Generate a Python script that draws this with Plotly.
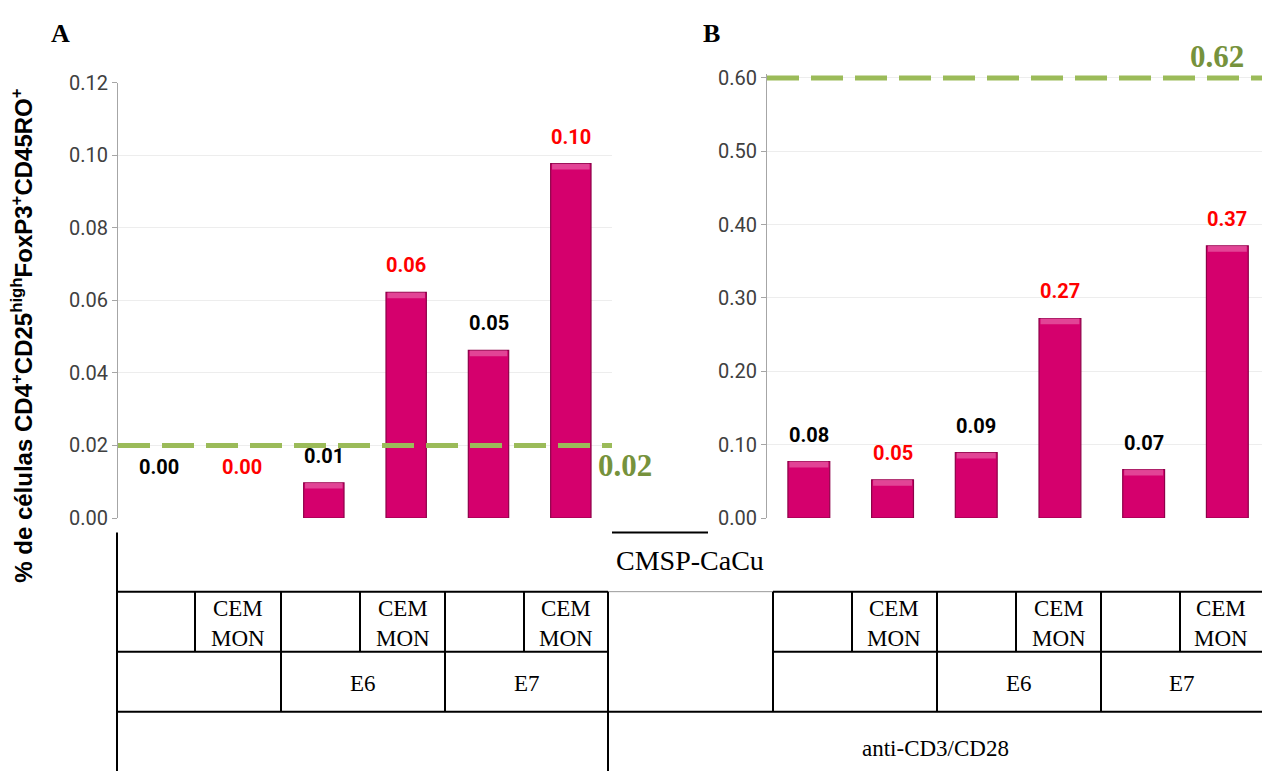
import plotly.graph_objects as go

W, H = 1262, 783

# ---------------- data ----------------
categories = ["Control", "CEMMON", "E6", "E6 CEMMON", "E7", "E7 CEMMON"]
values_a = [0.0, 0.0, 0.0097, 0.0622, 0.0462, 0.0977]
values_b = [0.077, 0.052, 0.089, 0.272, 0.066, 0.371]
label_colors = ["black", "red", "black", "red", "black", "red"]
ref_a = 0.02
ref_b = 0.60
ref_a_label = "0.02"
ref_b_label = "0.62"
yticks_a = [0.00, 0.02, 0.04, 0.06, 0.08, 0.10, 0.12]
yticks_b = [0.00, 0.10, 0.20, 0.30, 0.40, 0.50, 0.60]
row2_labels = ["", "CEM<br>MON", "", "CEM<br>MON", "", "CEM<br>MON"]
row3_labels = ["", "E6", "E7"]
top_label = "CMSP-CaCu"
stim_label = "anti-CD3/CD28"
ytitle = "% de células CD4<sup>+</sup>CD25<sup>high</sup>FoxP3<sup>+</sup>CD45RO<sup>+</sup>"


def X(px):
    return px / W


def Y(py):
    return 1 - py / H


BAR = "#D5006D"
BAR_EDGE = "#8E0049"
BEVEL = "#E75BA4"
GREEN = "#9BBB59"
GREEN_TXT = "#76923C"
SANS = "Roboto, Liberation Sans, Arial"
TICKFONT = dict(family=SANS, size=20, color="#404040")
SERIF = "Liberation Serif, Times New Roman, serif"

fig = go.Figure()


def add_bars(vals, xa, ya, width, bevel_frac):
    lw = [0 if v == 0 else 1.2 for v in vals]
    fig.add_trace(go.Bar(x=categories, y=vals, xaxis=xa, yaxis=ya, width=width,
                         marker=dict(color=BAR, line=dict(color=BAR_EDGE, width=lw)),
                         showlegend=False, hoverinfo="skip"))
    # light top bevel of each bar (derived from the bar values)
    bev = [bevel_frac if v > 0 else 0 for v in vals]
    base = [v - b for v, b in zip(vals, bev)]
    fig.add_trace(go.Bar(x=categories, y=bev, base=base, xaxis=xa, yaxis=ya, width=width * 0.93,
                         marker=dict(color=BEVEL, line=dict(width=0)), opacity=0.75,
                         showlegend=False, hoverinfo="skip"))


add_bars(values_a, "x", "y", 0.49, 0.0016)
add_bars(values_b, "x2", "y2", 0.5, 0.0080)

axis_common = dict(showgrid=True, gridcolor="#EDEDED", gridwidth=1, zeroline=False,
                   showline=True, linecolor="#A6A6A6", linewidth=1,
                   ticks="outside", ticklen=5, tickcolor="#A6A6A6", tickfont=TICKFONT)

fig.update_layout(
    width=W, height=H, margin=dict(l=0, r=0, t=0, b=0),
    paper_bgcolor="white", plot_bgcolor="white", barmode="overlay",
    xaxis=dict(domain=[X(118), X(612)], type="category", showticklabels=False,
               showgrid=False, zeroline=False, showline=False, range=[-0.5, 5.5]),
    yaxis=dict(domain=[Y(522), Y(73)], range=[0, 0.12], tickvals=yticks_a,
               ticktext=[f"{v:.2f}" for v in yticks_a], **axis_common),
    xaxis2=dict(domain=[X(767), 1.0], type="category", showticklabels=False,
                showgrid=False, zeroline=False, showline=False, range=[-0.5, 5.414]),
    yaxis2=dict(domain=[Y(522), Y(64.2)], range=[0, 0.605], tickvals=yticks_b,
                ticktext=[f"{v:.2f}" for v in yticks_b], anchor="x2", **axis_common),
)

shapes = []
# reference dashed lines
shapes.append(dict(type="line", xref="x domain", yref="y", x0=0, x1=1, y0=ref_a, y1=ref_a,
                   line=dict(color=GREEN, width=5, dash="32px,12px"), layer="above"))
shapes.append(dict(type="line", xref="x2 domain", yref="y2", x0=0, x1=1, y0=ref_b, y1=ref_b,
                   line=dict(color=GREEN, width=5, dash="32px,12px"), layer="above"))
# white cover below plots (table area)
shapes.append(dict(type="rect", xref="paper", yref="paper", x0=X(40), x1=1, y0=0, y1=Y(531),
                   fillcolor="white", line=dict(width=0), layer="above"))


def hline(x0, x1, y, color="black", width=2):
    shapes.append(dict(type="line", xref="paper", yref="paper", x0=X(x0), x1=X(x1),
                       y0=Y(y), y1=Y(y), line=dict(color=color, width=width), layer="above"))


def vline(x, y0, y1, color="black", width=2):
    shapes.append(dict(type="line", xref="paper", yref="paper", x0=X(x), x1=X(x),
                       y0=Y(y0), y1=Y(y1), line=dict(color=color, width=width), layer="above"))


# table grid
hline(612, 708, 537)
hline(117, 608, 598)
hline(608, 773, 598, color="#9A9A9A", width=1)
hline(773, 1262, 598)
hline(117, 608, 660)
hline(773, 1262, 660)
hline(117, 1262, 722)
vline(117, 537, 783)
vline(608, 598, 783)
vline(773, 598, 722)
cols_a = [117, 195, 281, 360, 445, 524, 608]
cols_b = [773, 852, 937, 1016, 1101, 1180, 1262]
for c in cols_a[1:-1]:
    vline(c, 598, 660)
for c in [281, 445]:
    vline(c, 660, 722)
for c in cols_b[1:-1]:
    vline(c, 598, 660)
for c in [937, 1101]:
    vline(c, 660, 722)

ann = []


def add_text(x, y, text, font, xref="paper", yref="paper", **kw):
    ann.append(dict(x=x, y=y, xref=xref, yref=yref, text=text, showarrow=False,
                    xanchor="center", yanchor="middle", font=font, **kw))


# bar labels
for xaxis, yaxis, vals in [("x", "y", values_a), ("x2", "y2", values_b)]:
    for c, v, col in zip(categories, vals, label_colors):
        add_text(c, v, f"{v:.2f}", dict(family=SANS, size=20, color=col, weight="bold"),
                 xref=xaxis, yref=yaxis, yshift=(51 if v == 0 else 27))

# reference labels
add_text(X(625), ref_a, f"<b>{ref_a_label}</b>", dict(family=SERIF, size=31, color=GREEN_TXT),
         yref="y", yshift=-20)
add_text(X(1217), ref_b, f"<b>{ref_b_label}</b>", dict(family=SERIF, size=31, color=GREEN_TXT),
         yref="y2", yshift=21)

# panel letters
add_text(X(60), Y(22), "<b>A</b>", dict(family=SERIF, size=26, color="black"))
add_text(X(712), Y(22), "<b>B</b>", dict(family=SERIF, size=26, color="black"))

# y-axis title
add_text(X(22), Y(334), f"<b>{ytitle}</b>",
         dict(family="Liberation Sans, Arial", size=24, color="black"), textangle=-90)

# table text
tfont = dict(family=SERIF, size=23, color="black")
add_text(X(690), Y(566), top_label, dict(family=SERIF, size=28, color="black"))
for cols in (cols_a, cols_b):
    for i, t in enumerate(row2_labels):
        if t:
            add_text(X((cols[i] + cols[i + 1]) / 2), Y(631), t, tfont)
    for j, t in enumerate(row3_labels):
        if t:
            add_text(X((cols[2 * j] + cols[2 * j + 2]) / 2), Y(693), t, tfont)
add_text(X(935), Y(760), stim_label, tfont)

fig.update_layout(shapes=shapes, annotations=ann)
fig.write_html("out.html", config={"displayModeBar": False},
               post_script="document.body.style.margin='0px';document.body.style.overflow='hidden';")
